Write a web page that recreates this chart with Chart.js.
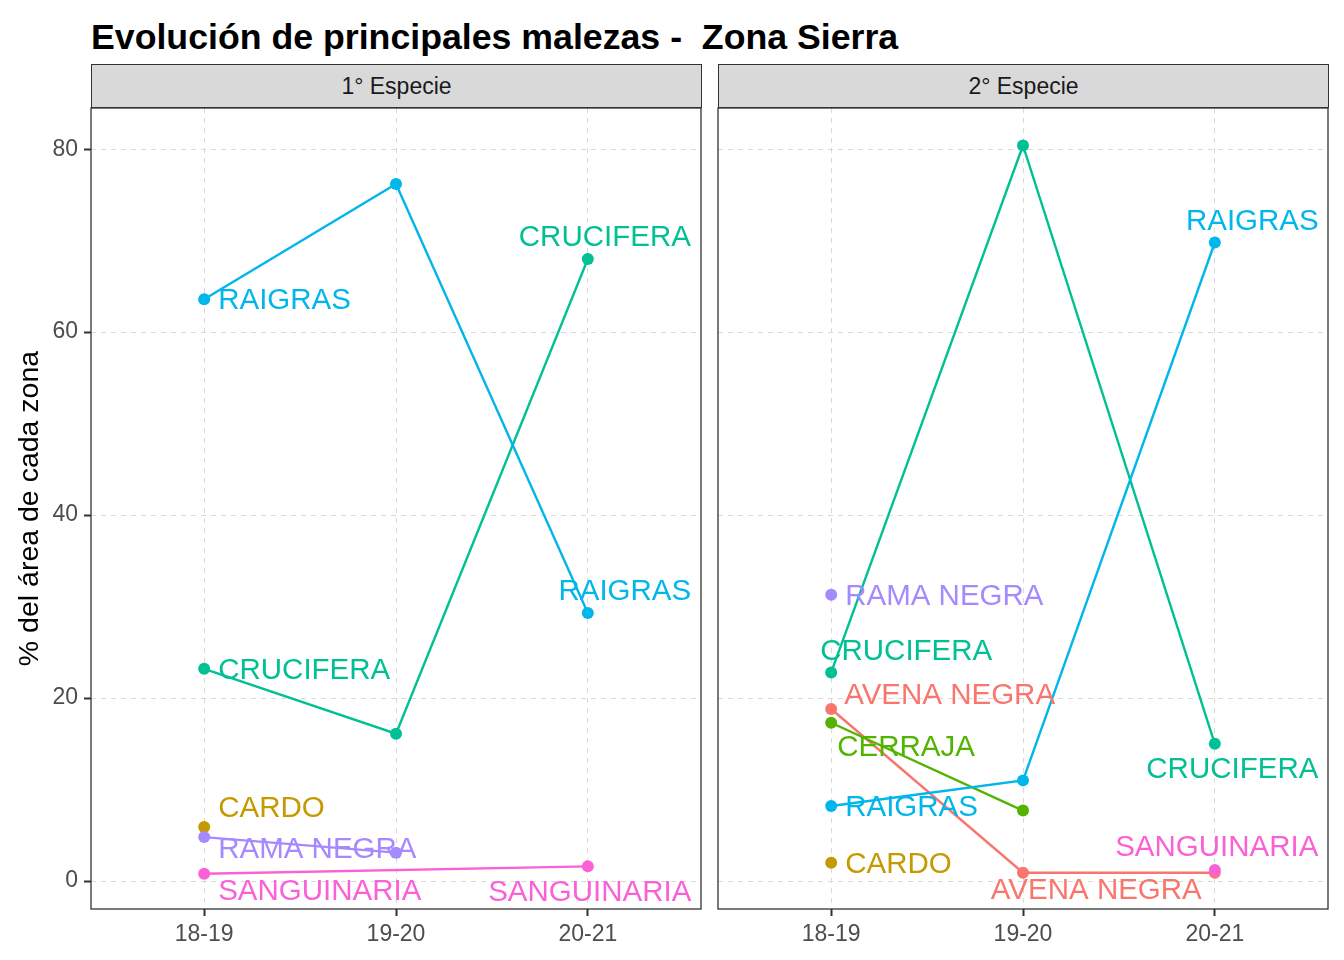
<!DOCTYPE html>
<html><head><meta charset="utf-8">
<script src="https://cdn.jsdelivr.net/npm/chart.js@4/dist/chart.umd.min.js"></script>
<style>
body{margin:0;background:#fff;width:1344px;height:960px;overflow:hidden;position:relative;font-family:"Liberation Sans",Arial,sans-serif;}
canvas{position:absolute;left:0;top:0;}
#title{position:absolute;left:91px;top:14px;font-weight:bold;font-size:35.7px;color:#000;white-space:pre;line-height:46px;}
.strip{position:absolute;top:64px;height:44px;background:#D9D9D9;border:1.5px solid #333;box-sizing:border-box;font-size:23px;color:#1A1A1A;display:flex;align-items:center;justify-content:center;}
</style></head><body>
<div id="title">Evolución de principales malezas -  Zona Sierra</div>
<div class="strip" style="left:91px;width:611px;">1° Especie</div>
<div class="strip" style="left:718px;width:611px;">2° Especie</div>
<canvas id="c1" width="1344" height="960"></canvas>
<canvas id="c2" width="1344" height="960"></canvas>
<script>
// ---- data ----
const categories = ['18-19', '19-20', '20-21'];
const yTicks = [0, 20, 40, 60, 80];

// Panel 1: 1° Especie
const p1Raigras     = [63.6, 76.2, 29.3];
const p1Crucifera   = [23.2, 16.1, 68.0];
const p1Cardo       = [5.9, null, null];
const p1RamaNegra   = [4.8, 3.1, null];
const p1Sanguinaria = [0.8, null, 1.6];

// Panel 2: 2° Especie
const p2AvenaNegra  = [18.8, 0.9, 0.9];
const p2Cardo       = [2.0, null, null];
const p2Cerraja     = [17.3, 7.7, null];
const p2Crucifera   = [22.8, 80.4, 15.0];
const p2Raigras     = [8.2, 11.0, 69.8];
const p2RamaNegra   = [31.3, null, null];
const p2Sanguinaria = [null, null, 1.2];

const colors = {
  'AVENA NEGRA': '#F8766D', 'CARDO': '#C49A00', 'CERRAJA': '#53B400',
  'CRUCIFERA': '#00C094', 'RAIGRAS': '#00B6EB', 'RAMA NEGRA': '#A58AFF',
  'SANGUINARIA': '#FB61D7'
};

// label placement (pixel nudges relative to the point)
const p1Labels = [
  {s:'RAIGRAS', i:0, dx:14, dy:0, a:'left'},
  {s:'RAIGRAS', i:2, dx:37, dy:-23, a:'center'},
  {s:'CRUCIFERA', i:0, dx:14, dy:0, a:'left'},
  {s:'CRUCIFERA', i:2, dx:17, dy:-23, a:'center'},
  {s:'CARDO', i:0, dx:14, dy:-20, a:'left'},
  {s:'RAMA NEGRA', i:0, dx:14, dy:11, a:'left'},
  {s:'SANGUINARIA', i:0, dx:14, dy:16, a:'left'},
  {s:'SANGUINARIA', i:2, dx:2, dy:24, a:'center'}
];
const p2Labels = [
  {s:'RAMA NEGRA', i:0, dx:14, dy:0, a:'left'},
  {s:'CRUCIFERA', i:0, dx:-11, dy:-23, a:'left'},
  {s:'CRUCIFERA', i:2, dx:17.5, dy:24, a:'center'},
  {s:'AVENA NEGRA', i:0, dx:13, dy:-15, a:'left'},
  {s:'AVENA NEGRA', i:2, dx:-118.5, dy:16, a:'center'},
  {s:'CERRAJA', i:0, dx:6, dy:23, a:'left'},
  {s:'RAIGRAS', i:0, dx:14, dy:0, a:'left'},
  {s:'RAIGRAS', i:2, dx:37.5, dy:-23, a:'center'},
  {s:'CARDO', i:0, dx:14, dy:0, a:'left'},
  {s:'SANGUINARIA', i:2, dx:2, dy:-24, a:'center'}
];

function ds(name, values) {
  return {
    label: name,
    data: values.map((v, i) => ({x: i, y: v})),
    borderColor: colors[name], backgroundColor: colors[name],
    pointBackgroundColor: colors[name], pointBorderWidth: 0,
    pointRadius: 6, borderWidth: 2.4, spanGaps: true, tension: 0
  };
}

const labelPlugin = {
  id: 'weedLabels',
  afterDatasetsDraw(chart, args, opts) {
    const ctx = chart.ctx;
    ctx.save();
    ctx.font = '29.5px "Liberation Sans", Arial, sans-serif';
    ctx.textBaseline = 'middle';
    opts.items.forEach(l => {
      const d = chart.data.datasets.find(x => x.label === l.s);
      const v = d.data[l.i];
      const px = chart.scales.x.getPixelForValue(v.x);
      const py = chart.scales.y.getPixelForValue(v.y);
      ctx.fillStyle = colors[l.s];
      ctx.textAlign = l.a;
      ctx.fillText(l.s, px + l.dx, py + l.dy + 2);
    });
    ctx.restore();
  },
  afterDraw(chart) {
    const a = chart.chartArea, ctx = chart.ctx;
    ctx.save();
    ctx.strokeStyle = '#333333';
    ctx.lineWidth = 1.3;
    ctx.strokeRect(a.left, a.top, a.right - a.left, a.bottom - a.top);
    ctx.restore();
  }
};

function makeChart(id, datasets, labels, isFirst) {
  const pad = isFirst ? {left: 0, top: 108, right: 1344 - 701, bottom: 0}
                      : {left: 718, top: 108, right: 1344 - 1328, bottom: 0};
  return new Chart(document.getElementById(id), {
    type: 'line',
    data: {datasets},
    plugins: [labelPlugin],
    options: {
      responsive: false, animation: false, devicePixelRatio: 1,
      layout: {padding: pad},
      plugins: {legend: {display: false}, tooltip: {enabled: false}, title: {display: false},
                weedLabels: {items: labels}},
      scales: {
        x: {
          type: 'linear', min: -0.59, max: 2.59,
          afterBuildTicks: s => { s.ticks = categories.map((c, i) => ({value: i})); },
          afterFit: s => { s.height = 51; },
          ticks: {callback: v => categories[v], font: {family: '"Liberation Sans", Arial, sans-serif', size: 23},
                  color: '#4D4D4D', padding: 5, maxRotation: 0, autoSkip: false},
          grid: {color: '#D9D9D9', lineWidth: 1, tickColor: '#333333', tickLength: 7, tickWidth: 2},
          border: {display: false, dash: [5, 5]}
        },
        y: {
          type: 'linear', min: -3.06, max: 84.5,
          afterBuildTicks: s => { s.ticks = yTicks.map(v => ({value: v})); },
          afterFit: s => { s.width = isFirst ? 91 : 0; },
          ticks: {display: isFirst, font: {family: '"Liberation Sans", Arial, sans-serif', size: 23},
                  color: '#4D4D4D', padding: 6},
          title: {display: isFirst, text: '% del área de cada zona', color: '#000',
                  font: {family: '"Liberation Sans", Arial, sans-serif', size: 28.5},
                  padding: {top: 13, bottom: 0}},
          grid: {color: '#D9D9D9', lineWidth: 1, tickColor: '#333333', tickLength: 7, tickWidth: 2,
                 drawTicks: isFirst},
          border: {display: false, dash: [5, 5]}
        }
      }
    }
  });
}

makeChart('c1', [
  ds('SANGUINARIA', p1Sanguinaria), ds('RAMA NEGRA', p1RamaNegra), ds('RAIGRAS', p1Raigras),
  ds('CRUCIFERA', p1Crucifera), ds('CARDO', p1Cardo)
], p1Labels, true);

makeChart('c2', [
  ds('SANGUINARIA', p2Sanguinaria), ds('RAMA NEGRA', p2RamaNegra), ds('RAIGRAS', p2Raigras),
  ds('CRUCIFERA', p2Crucifera), ds('CERRAJA', p2Cerraja), ds('CARDO', p2Cardo),
  ds('AVENA NEGRA', p2AvenaNegra)
], p2Labels, false);
</script>
</body></html>
